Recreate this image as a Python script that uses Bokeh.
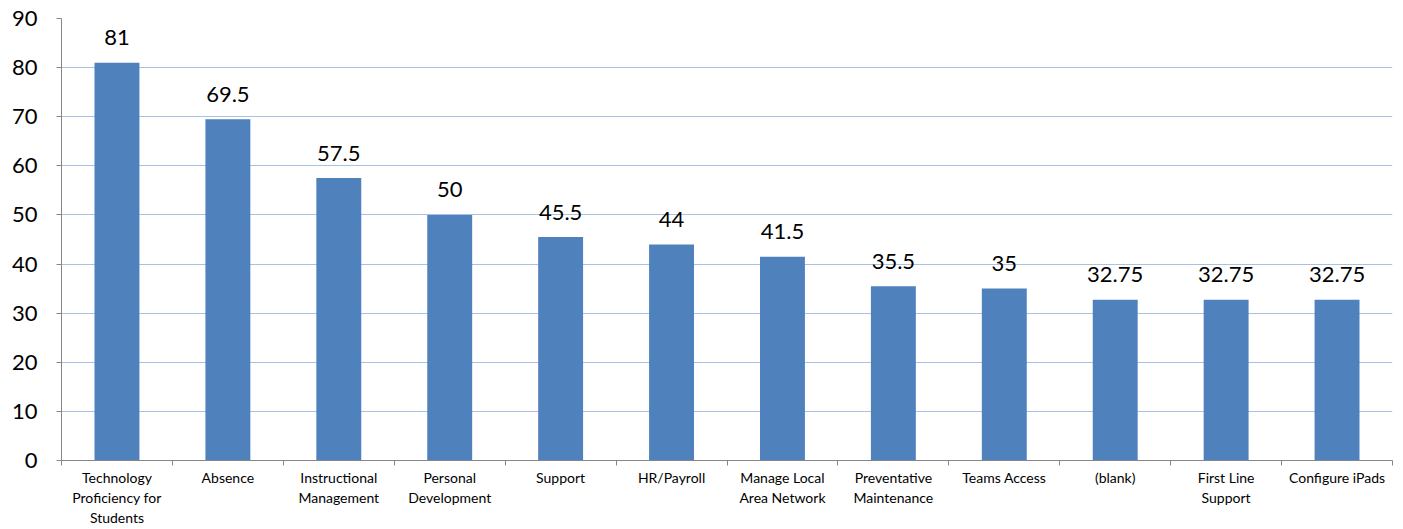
from bokeh.plotting import figure
from bokeh.models import ColumnDataSource, FixedTicker, Range1d, LinearAxis
from bokeh.core.properties import value
from bokeh.embed import file_html
from bokeh.resources import INLINE

categories = ["Technology\nProficiency for\nStudents", "Absence", "Instructional\nManagement",
              "Personal\nDevelopment", "Support", "HR/Payroll", "Manage Local\nArea Network",
              "Preventative\nMaintenance", "Teams Access", "(blank)", "First Line\nSupport",
              "Configure iPads"]
values = [81, 69.5, 57.5, 50, 45.5, 44, 41.5, 35.5, 35, 32.75, 32.75, 32.75]
labels = ["81", "69.5", "57.5", "50", "45.5", "44", "41.5", "35.5", "35", "32.75", "32.75", "32.75"]
y_ticks = [0, 10, 20, 30, 40, 50, 60, 70, 80, 90]

n = len(categories)
xs = [i + 0.5 for i in range(n)]
src = ColumnDataSource(dict(x=xs, top=values, label=labels))

FONT = "Lato"
p = figure(width=1403, height=529, output_backend="svg", toolbar_location=None,
           x_range=Range1d(0, n), y_range=Range1d(0, 90),
           x_axis_type=None, min_border_left=61, min_border_right=11,
           min_border_top=18, min_border_bottom=60)
p.outline_line_color = None
p.background_fill_color = "white"

p.vbar(x="x", top="top", width=0.405, source=src, color="#4F81BD", line_color=None)
p.text(x="x", y="top", text="label", source=src, text_align="center",
       text_baseline="alphabetic", y_offset=-25, text_font=value(FONT),
       text_font_size="22px", text_color="black")

xaxis = LinearAxis(ticker=FixedTicker(ticks=xs, minor_ticks=list(range(n + 1))))
xaxis.major_label_overrides = {x: c for x, c in zip(xs, categories)}
xaxis.major_tick_out = 0
xaxis.major_tick_in = 0
xaxis.minor_tick_out = 5
xaxis.minor_tick_in = 0
xaxis.minor_tick_line_color = "#868686"
xaxis.axis_line_color = "#868686"
xaxis.major_label_text_font = FONT
xaxis.major_label_text_font_size = "14px"
xaxis.major_label_text_color = "black"
xaxis.major_label_standoff = 3
p.add_layout(xaxis, "below")

p.yaxis.ticker = FixedTicker(ticks=y_ticks)
p.yaxis.major_tick_out = 5
p.yaxis.major_tick_in = 0
p.yaxis.minor_tick_line_color = None
p.yaxis.axis_line_color = "#868686"
p.yaxis.major_tick_line_color = "#868686"
p.yaxis.major_label_text_font = FONT
p.yaxis.major_label_text_font_size = "22px"
p.yaxis.major_label_text_color = "black"
p.yaxis.major_label_standoff = 19

p.ygrid.grid_line_color = "#A9C1E4"
p.ygrid.grid_line_width = 1
p.xgrid.grid_line_color = None

open("out.html", "w").write(file_html(p, INLINE))
